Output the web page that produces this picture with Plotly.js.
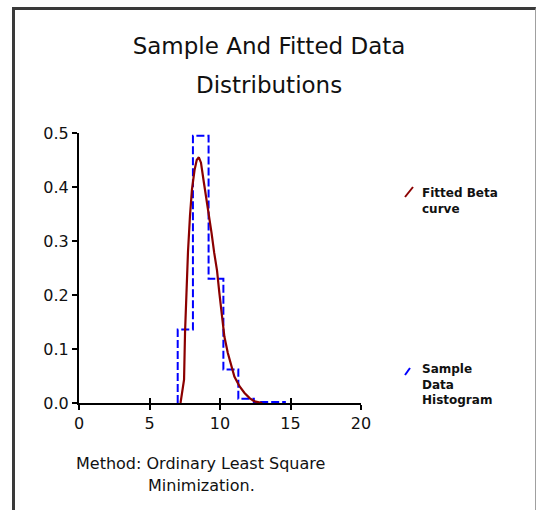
<!DOCTYPE html>
<html>
<head>
<meta charset="utf-8">
<script src="https://cdn.plot.ly/plotly-3.0.1.min.js"></script>
<style>
  html, body { margin: 0; padding: 0; background: #ffffff; }
  #wrap { position: relative; width: 537px; height: 510px; overflow: hidden; }
  #frame { position: absolute; left: 12px; top: 7px; width: 520px; height: 520px;
           border-left: 3px solid #3a3a3a; border-top: 3px solid #3a3a3a; border-right: 1px solid #a0a0a0; }
  #chart { position: absolute; left: 0; top: 0; width: 537px; height: 510px; }
</style>
</head>
<body>
<div id="wrap">
  <div id="frame"></div>
  <div id="chart"></div>
</div>
<script>
// Sample histogram (bin edges and bin heights)
const binEdges = [7.0, 8.08, 9.19, 10.24, 11.3, 12.4, 13.5, 14.6];
const binHeights = [0.136, 0.495, 0.23, 0.062, 0.008, 0.002, 0.002];

// Fitted beta curve points
const curveX = [7.2, 7.45, 7.52, 7.61, 7.73, 7.87, 8.01, 8.2, 8.35, 8.5, 8.65, 8.83, 9.0, 9.24, 9.4, 9.59, 9.79, 9.95, 10.12, 10.31, 10.55, 10.79, 11.02, 11.38, 11.74, 12.1, 12.45, 13.0];
const curveY = [0, 0.043, 0.13, 0.21, 0.28, 0.346, 0.395, 0.432, 0.45, 0.455, 0.445, 0.413, 0.385, 0.345, 0.315, 0.278, 0.245, 0.205, 0.167, 0.123, 0.093, 0.068, 0.049, 0.031, 0.0185, 0.009, 0.003, 0];

const xTicks = [0, 5, 10, 15, 20];
const yTicks = [0.0, 0.1, 0.2, 0.3, 0.4, 0.5];

const titleLine1 = "Sample And Fitted Data";
const titleLine2 = "Distributions";
const noteLine1 = "Method: Ordinary Least Square";
const noteLine2 = "Minimization.";
const legendFit = "Fitted Beta<br>curve";
const legendHist = "Sample<br>Data<br>Histogram";

// build step outline of histogram
const histX = [binEdges[0]];
const histY = [0];
for (let i = 0; i < binHeights.length; i++) { histX.push(binEdges[i]); histY.push(binHeights[i]); }
histX.push(binEdges[binEdges.length - 1]); histY.push(0);

const FONT = "DejaVu Sans, sans-serif";

const traces = [
  { x: histX, y: histY, type: 'scatter', mode: 'lines', name: 'Sample Data Histogram',
    line: { shape: 'hv', color: '#0000ff', width: 2, dash: '8px,3px' }, showlegend: false },
  { x: curveX, y: curveY, type: 'scatter', mode: 'lines', name: 'Fitted Beta curve',
    line: { color: '#8b0000', width: 2.2 }, showlegend: false },
  { x: [0, 20], y: [0, 0], xaxis: 'x2', yaxis: 'y', mode: 'lines', line: { width: 0 },
    hoverinfo: 'skip', showlegend: false }
];

const layout = {
  width: 537, height: 510,
  margin: { l: 79, r: 176, t: 133, b: 107 },
  paper_bgcolor: 'rgba(0,0,0,0)', plot_bgcolor: 'rgba(0,0,0,0)',
  showlegend: false,
  title: { text: titleLine1, x: 269 / 537, xref: 'container', xanchor: 'center',
           y: 1 - 46 / 510, yref: 'container', yanchor: 'middle',
           font: { family: FONT, size: 23, color: '#111' } },
  xaxis: { range: [0, 20], tickvals: xTicks, ticktext: xTicks.map(String),
           showgrid: false, zeroline: false, showline: true, linecolor: '#000', linewidth: 2,
           ticks: 'outside', ticklen: 5, tickwidth: 2, tickcolor: '#000',
           tickfont: { family: FONT, size: 16, color: '#111' }, fixedrange: true },
  xaxis2: { range: [0, 20], overlaying: 'x', side: 'bottom', anchor: 'y', tickvals: xTicks,
            showticklabels: false, showgrid: false, zeroline: false, showline: false,
            ticks: 'inside', ticklen: 5, tickwidth: 2, tickcolor: '#000' },
  yaxis: { range: [0, 0.5], tickvals: yTicks, ticktext: yTicks.map(v => v.toFixed(1)),
           showgrid: false, zeroline: false, showline: true, linecolor: '#000', linewidth: 2,
           ticks: 'outside', ticklen: 5, tickwidth: 2, tickcolor: '#000',
           tickfont: { family: FONT, size: 16, color: '#111' }, fixedrange: true },
  annotations: [
    { text: titleLine2, xref: 'paper', yref: 'paper', x: (269 - 79) / 282, y: (403 - 85) / 270,
      xanchor: 'center', yanchor: 'middle', showarrow: false,
      font: { family: FONT, size: 23, color: '#111' } },
    { text: noteLine1, xref: 'paper', yref: 'paper', x: (200.5 - 79) / 282, y: (403 - 463.5) / 270,
      xanchor: 'center', yanchor: 'middle', showarrow: false,
      font: { family: FONT, size: 16, color: '#111' } },
    { text: noteLine2, xref: 'paper', yref: 'paper', x: (201.5 - 79) / 282, y: (403 - 485.5) / 270,
      xanchor: 'center', yanchor: 'middle', showarrow: false,
      font: { family: FONT, size: 16, color: '#111' } },
    { text: '<b>' + legendFit.replace('<br>', '</b><br><b>') + '</b>', xref: 'paper', yref: 'paper',
      x: (420 - 79) / 282, y: (403 - 184) / 270, xanchor: 'left', yanchor: 'top', align: 'left',
      showarrow: false, font: { family: FONT, size: 12, color: '#111' } },
    { text: '<b>' + legendHist.split('<br>').join('</b><br><b>') + '</b>', xref: 'paper', yref: 'paper',
      x: (420 - 79) / 282, y: (403 - 360) / 270, xanchor: 'left', yanchor: 'top', align: 'left',
      showarrow: false, font: { family: FONT, size: 12, color: '#111' } }
  ],
  shapes: [
    { type: 'line', xref: 'paper', yref: 'paper', x0: (405 - 79) / 282, y0: (403 - 197) / 270,
      x1: (413 - 79) / 282, y1: (403 - 187) / 270, line: { color: '#8b0000', width: 2 } },
    { type: 'line', xref: 'paper', yref: 'paper', x0: (405 - 79) / 282, y0: (403 - 375) / 270,
      x1: (410 - 79) / 282, y1: (403 - 368) / 270, line: { color: '#0000ff', width: 2 } }
  ]
};

Plotly.newPlot('chart', traces, layout, { displayModeBar: false, staticPlot: true });
</script>
</body>
</html>
